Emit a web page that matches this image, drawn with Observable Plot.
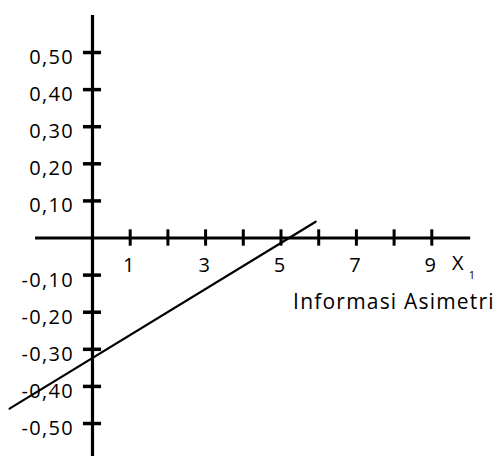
<!DOCTYPE html>
<html>
<head>
<meta charset="utf-8">
<script src="https://cdn.jsdelivr.net/npm/d3@7"></script>
<script src="https://cdn.jsdelivr.net/npm/@observablehq/plot@0.6"></script>
<style>
  html, body { margin: 0; padding: 0; background: #fff; }
  svg { display: block; }
</style>
</head>
<body>
<div id="chart"></div>
<script>
// Tick values and labels
const yTicks = [0.5, 0.4, 0.3, 0.2, 0.1, -0.1, -0.2, -0.3, -0.4, -0.5];
const yTickLabels = ["0,50", "0,40", "0,30", "0,20", "0,10", "-0,10", "-0,20", "-0,30", "-0,40", "-0,50"];
const xTicks = [1, 2, 3, 4, 5, 6, 7, 8, 9];
const xLabelTicks = [1, 3, 5, 7, 9];
const xLabelTexts = ["1", "3", "5", "7", "9"];
const xTitle = "Informasi Asimetri";
// Regression line endpoints
const lineX = [-2.2, 5.92];
const lineY = [-0.46, 0.044];

const lineData = lineX.map((x, i) => ({x, y: lineY[i]}));
const yTickData = yTicks.map((v, i) => ({v, label: yTickLabels[i]}));
const xLabelData = xLabelTicks.map((v, i) => ({v, label: xLabelTexts[i]}));

const font = "'Open Sans', 'DejaVu Sans', sans-serif";

const chart = Plot.plot({
  width: 496,
  height: 456,
  margin: 0,
  style: {fontFamily: font, background: "#fff", color: "#000"},
  x: {domain: [-2.440, 10.716], range: [0, 496], axis: null},
  y: {domain: [-0.5889, 0.6402], range: [456, 0], axis: null},
  marks: [
    // x axis line
    Plot.ruleY([0], {x1: -1.51, x2: 10.03, stroke: "#000", strokeWidth: 3}),
    // y axis line
    Plot.ruleX([0], {y1: -0.5889, y2: 0.6, stroke: "#000", strokeWidth: 3.2}),
    // y ticks
    Plot.ruleY(yTickData, {y: "v", x1: -0.24, x2: 0.24, stroke: "#000", strokeWidth: 3.5}),
    // x ticks
    Plot.ruleX(xTicks, {x: d => d, y1: -0.022, y2: 0.022, stroke: "#000", strokeWidth: 3}),
    // y tick labels
    Plot.text(yTickData, {x: 0, y: "v", text: "label", textAnchor: "end", dx: -18.5, dy: 5, fontSize: 20, fill: "#000"}),
    // x tick labels
    Plot.text(xLabelData, {x: "v", y: 0, text: "label", dx: -1.5, dy: 28, fontSize: 20, fill: "#000"}),
    // axis label X1
    Plot.text(["X"], {x: 9, y: 0, text: d => d, dx: 26, dy: 26, fontSize: 20, fill: "#000"}),
    Plot.text(["1"], {x: 9, y: 0, text: d => d, dx: 40, dy: 37, fontSize: 11, fill: "#000"}),
    Plot.text([xTitle], {x: 9, y: 0, text: d => d, textAnchor: "end", dx: 63, dy: 64, fontSize: 21, fill: "#000"}),
    // regression line
    Plot.line(lineData, {x: "x", y: "y", stroke: "#000", strokeWidth: 2.2})
  ]
});
// letter spacing like the scanned typeface
d3.select(chart).selectAll("text").each(function() {
  const t = this.textContent;
  if (yTickLabels.includes(t)) this.style.letterSpacing = "1.3px";
  else if (t === xTitle) this.style.letterSpacing = "1.2px";
});
document.getElementById("chart").appendChild(chart);
</script>
</body>
</html>
